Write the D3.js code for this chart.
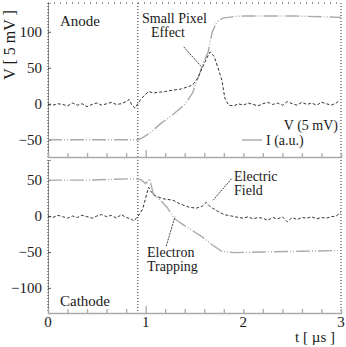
<!DOCTYPE html>
<html>
<head>
<meta charset="utf-8">
<script src="https://cdn.jsdelivr.net/npm/d3@7"></script>
<style>
  body { margin: 0; background: #fff; }
</style>
</head>
<body>
<svg id="chart"></svg>
<script>
const serif = "'Liberation Serif', 'Times New Roman', 'DejaVu Serif', serif";

// time axis
const tTicks = [0, 1, 2, 3];
const tMinor = [0.2, 0.4, 0.6, 0.8, 1, 1.2, 1.4, 1.6, 1.8, 2, 2.2, 2.4, 2.6, 2.8];
const triggerT = 0.92;

// anode panel: [t (us), value]
const anodeV = [[0,-1],[0.05,-2],[0.1,0],[0.15,-1],[0.2,-3],[0.25,1],[0.3,-2],[0.35,0],[0.4,-4],[0.45,-1],
  [0.5,1],[0.55,-2],[0.6,0],[0.65,2],[0.7,-1],[0.75,0],[0.8,3],[0.83,6],[0.86,-2],[0.89,-6],[0.92,0],
  [0.95,6],[0.99,12],[1.03,17],[1.08,15],[1.13,16],[1.2,17],[1.28,19],[1.35,20],[1.42,23],[1.48,26],
  [1.53,35],[1.58,50],[1.62,62],[1.66,72],[1.7,66],[1.74,50],[1.78,33],[1.81,8],[1.85,-2],[1.9,-3],
  [1.95,0],[2.0,-2],[2.05,1],[2.1,-1],[2.15,-3],[2.2,0],[2.25,2],[2.3,-1],[2.35,1],[2.4,-2],[2.45,3],
  [2.5,0],[2.55,-2],[2.6,2],[2.65,-1],[2.7,1],[2.75,-2],[2.8,2],[2.85,0],[2.9,-2],[2.95,1],[2.98,4]];
const anodeI = [[0,-50],[0.5,-50],[0.92,-50],[0.97,-47],[1.05,-40],[1.15,-28],[1.28,-15],[1.4,-1],
  [1.48,15],[1.54,37],[1.59,57],[1.64,72],[1.68,99],[1.73,114],[1.79,119],[1.9,121],[2.0,122],
  [2.5,122],[3.0,120]];

// cathode panel
const cathodeV = [[0,0],[0.05,-2],[0.1,1],[0.15,-1],[0.2,-3],[0.25,0],[0.3,-2],[0.35,1],[0.4,-1],
  [0.45,-3],[0.5,0],[0.55,2],[0.6,-1],[0.65,1],[0.7,-3],[0.75,2],[0.8,-2],[0.85,-4],[0.88,-7],
  [0.91,-2],[0.94,3],[0.97,10],[1.0,25],[1.03,40],[1.06,33],[1.1,28],[1.18,24],[1.28,22],[1.35,17],
  [1.45,12],[1.52,11],[1.58,14],[1.62,19],[1.66,13],[1.72,8],[1.8,2],[1.88,0],[1.95,-2],[2.0,-3],
  [2.05,-1],[2.1,-4],[2.15,-2],[2.2,-3],[2.25,-6],[2.3,-2],[2.35,-4],[2.4,-1],[2.45,-8],[2.5,-2],
  [2.55,-5],[2.6,-2],[2.65,-3],[2.7,-1],[2.75,-4],[2.8,-2],[2.85,-3],[2.9,-1],[2.95,0],[3.0,5]];
const cathodeI = [[0,50],[0.4,50],[0.9,52],[0.96,50],[1.0,45],[1.04,52],[1.08,30],[1.15,22],
  [1.22,12],[1.29,-3],[1.36,-10],[1.44,-17],[1.58,-29],[1.68,-40],[1.78,-49],[1.9,-51],[2.2,-50],
  [2.6,-49],[3.0,-48]];

const anodeTicks = [-50, 0, 50, 100];
const cathodeTicks = [-100, -50, 0, 50];

const width = 346, height = 347;
const svg = d3.select("#chart").attr("width", width).attr("height", height)
    .attr("font-family", serif);
svg.append("rect").attr("width", width).attr("height", height).attr("fill", "#fff");

const x = d3.scaleLinear().domain([0, 3]).range([48, 341]);
const yTop = d3.scaleLinear().domain([-74, 140]).range([157, 3]);
const yBot = d3.scaleLinear().domain([-135, 78]).range([313, 160]);

function panel(y, vData, iData, ticks, topBorder) {
    const g = svg.append("g");
    const [y0, y1] = y.range();

    // dotted frame
    if (topBorder) {
        g.append("line").attr("x1", x(0)).attr("x2", x(3)).attr("y1", y1).attr("y2", y1)
            .attr("stroke", "#333").attr("stroke-dasharray", "1,5");
    }
    g.append("line").attr("x1", x(3)).attr("x2", x(3)).attr("y1", y1).attr("y2", y0)
        .attr("stroke", "#333").attr("stroke-dasharray", "1,2");
    // trigger line
    g.append("line").attr("x1", x(triggerT)).attr("x2", x(triggerT)).attr("y1", y1).attr("y2", y0)
        .attr("stroke", "#222").attr("stroke-dasharray", "1,2");

    // y axis
    const ya = g.append("g").attr("transform", `translate(${x(0)},0)`)
        .call(d3.axisLeft(y).tickValues(ticks).tickSize(-3).tickPadding(6));
    ya.attr("font-family", serif).attr("font-size", 15);
    ya.select(".domain").attr("stroke", "#999");
    ya.selectAll(".tick line").attr("stroke", "#555");
    ya.selectAll("text").attr("fill", "#1a1a1a");
    g.append("line").attr("x1", x(0)).attr("x2", x(0)).attr("y1", y1).attr("y2", y0)
        .attr("stroke", "#333").attr("stroke-dasharray", "1,2");

    // x axis line with upward ticks
    const xa = g.append("g").attr("transform", `translate(0,${y0})`)
        .call(d3.axisBottom(x).tickValues(tMinor).tickSize(-4).tickFormat(""));
    xa.select(".domain").attr("stroke", "#aaa").attr("stroke-width", 1.5);
    xa.selectAll(".tick line").attr("stroke", "#aaa").attr("stroke-width", 1.3)
        .attr("y2", d => d === 1 ? -7 : -4);

    const line = d3.line().x(d => x(d[0])).y(d => y(d[1]));
    g.append("path").datum(iData).attr("d", line)
        .attr("fill", "none").attr("stroke", "#aaa").attr("stroke-width", 1.4)
        .attr("stroke-dasharray", "14,2,1,2,1,2");
    g.append("path").datum(vData).attr("d", line)
        .attr("fill", "none").attr("stroke", "#333").attr("stroke-width", 1)
        .attr("stroke-dasharray", "3,2");
    return g;
}

const anodePanel = panel(yTop, anodeV, anodeI, anodeTicks, true);
const cathodePanel = panel(yBot, cathodeV, cathodeI, cathodeTicks, false);

// x tick labels under the cathode panel
svg.selectAll("text.xlab").data(tTicks).join("text").attr("class", "xlab")
    .attr("x", d => x(d)).attr("y", 327).attr("text-anchor", "middle")
    .attr("font-size", 15).attr("fill", "#1a1a1a").text(d => d);

svg.append("text").attr("x", 335).attr("y", 342).attr("text-anchor", "end")
    .attr("font-size", 15).attr("fill", "#1a1a1a").text("t [ µs ]");
svg.append("text").attr("transform", "translate(15,45) rotate(-90)")
    .attr("text-anchor", "middle").attr("font-size", 16).attr("fill", "#1a1a1a")
    .text("V [ 5 mV ]");

// annotations
function note(lines, tx, ty, anchor, size) {
    lines.forEach((s, i) => svg.append("text")
        .attr("x", tx).attr("y", ty + i * 14)
        .attr("font-size", size || 14).attr("fill", "#1a1a1a")
        .attr("text-anchor", anchor || "start").text(s));
}
note(["Anode"], 60, 26, "start", 15);
note(["Cathode"], 60, 306, "start", 15);
note(["Small Pixel"], 142, 23);
note(["Effect"], 168, 37, "middle");
note(["Electric", "Field"], 234, 181);
note(["Electron", "Trapping"], 147, 257);

const pointers = [
    [yTop, [1.39, 79], [1.58, 50]],
    [yBot, [1.88, 52], [1.69, 22]],
    [yBot, [1.21, -42], [1.30, -1]]
];
pointers.forEach(([yS, a, b]) => {
    svg.append("line").attr("x1", x(a[0])).attr("y1", yS(a[1]))
        .attr("x2", x(b[0])).attr("y2", yS(b[1]))
        .attr("stroke", "#444").attr("stroke-width", 1).attr("stroke-dasharray", "2,1");
});

// legend
svg.append("text").attr("x", 338).attr("y", 130).attr("text-anchor", "end")
    .attr("font-size", 14).attr("fill", "#1a1a1a").text("V (5 mV)");
svg.append("line").attr("x1", 242).attr("x2", 262).attr("y1", 140).attr("y2", 140)
    .attr("stroke", "#aaa").attr("stroke-width", 1.4);
svg.append("text").attr("x", 266).attr("y", 145).attr("font-size", 14)
    .attr("fill", "#1a1a1a").text("I (a.u.)");
</script>
</body>
</html>
